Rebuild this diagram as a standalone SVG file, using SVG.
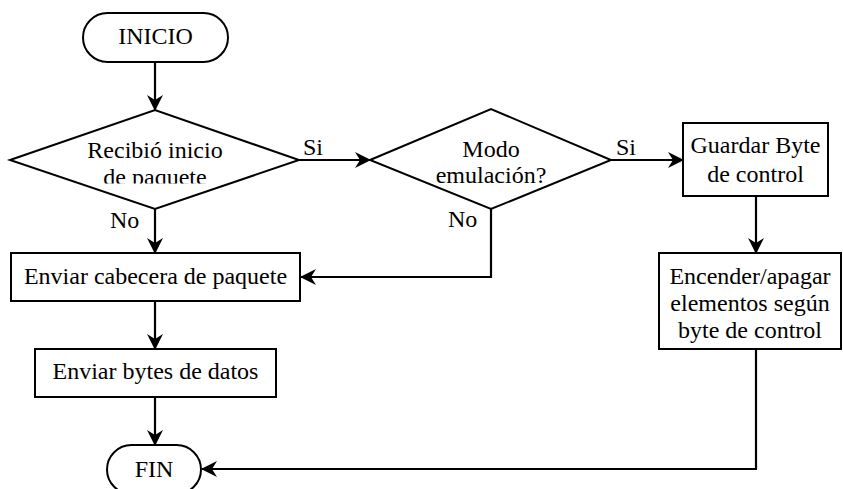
<svg xmlns="http://www.w3.org/2000/svg" width="843" height="489" viewBox="0 0 843 489">
  <style>
    .shape { fill: #ffffff; stroke: #000000; stroke-width: 2; }
    .label { font-family: "Liberation Serif", "Times New Roman", serif; font-size: 24px; fill: #000000; }
    .mid { text-anchor: middle; }
    .edge { fill: none; stroke: #000000; stroke-width: 2.2; }
  </style>
  <defs>
    <marker id="arrow" viewBox="0 0 16 16" markerWidth="16" markerHeight="16" refX="15" refY="8" orient="auto" markerUnits="userSpaceOnUse">
      <path d="M0,0 L16,8 L0,16 L5,8 z" fill="#000000"/>
    </marker>
    <clipPath id="clipDecision1">
      <rect x="0" y="0" width="843" height="183.5"/>
    </clipPath>
  </defs>
  <rect width="843" height="489" fill="#ffffff"/>

  <g id="connectors">
    <line class="edge" x1="155" y1="62" x2="155" y2="110" marker-end="url(#arrow)"/>
    <line class="edge" x1="299" y1="160" x2="370" y2="160" marker-end="url(#arrow)"/>
    <line class="edge" x1="155" y1="209" x2="155" y2="253" marker-end="url(#arrow)"/>
    <polyline class="edge" points="491,209 491,277 301,277" marker-end="url(#arrow)"/>
    <line class="edge" x1="611" y1="160" x2="683" y2="160" marker-end="url(#arrow)"/>
    <line class="edge" x1="756" y1="196" x2="756" y2="253" marker-end="url(#arrow)"/>
    <line class="edge" x1="155" y1="301" x2="155" y2="349" marker-end="url(#arrow)"/>
    <line class="edge" x1="155" y1="397" x2="155" y2="445" marker-end="url(#arrow)"/>
    <line class="edge" x1="756" y1="349" x2="756" y2="469" stroke-width="1.5"/>
    <line class="edge" x1="757" y1="469" x2="202" y2="469" marker-end="url(#arrow)"/>
    <text class="label" x="303" y="155">Si</text>
    <text class="label" x="616" y="155">Si</text>
    <text class="label" x="110" y="228">No</text>
    <text class="label" x="448" y="227">No</text>
  </g>

  <g id="inicio">
    <rect class="shape" x="83" y="13" width="145" height="49" rx="24.5" ry="24.5"/>
    <text class="label mid" x="155.5" y="44">INICIO</text>
  </g>

  <g id="decision-paquete">
    <polygon class="shape" points="10,160 155,110 299,160 155,209"/>
    <g clip-path="url(#clipDecision1)">
      <text class="label mid" x="155" y="158">Recibió inicio</text>
      <text class="label mid" x="155" y="185">de paquete</text>
    </g>
  </g>

  <g id="decision-emulacion">
    <polygon class="shape" points="370,160 491,109 611,160 491,209"/>
    <text class="label mid" x="491" y="157">Modo</text>
    <text class="label mid" x="491" y="183">emulación?</text>
  </g>

  <g id="guardar-byte">
    <rect class="shape" x="683" y="123" width="145" height="73"/>
    <text class="label mid" x="755.5" y="153">Guardar Byte</text>
    <text class="label mid" x="755.5" y="182">de control</text>
  </g>

  <g id="encender-apagar">
    <rect class="shape" x="659" y="253" width="182" height="96"/>
    <text class="label mid" x="750" y="284">Encender/apagar</text>
    <text class="label mid" x="750" y="311">elementos según</text>
    <text class="label mid" x="750" y="338">byte de control</text>
  </g>

  <g id="enviar-cabecera">
    <rect class="shape" x="11" y="253" width="289" height="48"/>
    <text class="label mid" x="155.5" y="284">Enviar cabecera de paquete</text>
  </g>

  <g id="enviar-datos">
    <rect class="shape" x="35" y="349" width="241" height="48"/>
    <text class="label mid" x="155.5" y="379">Enviar bytes de datos</text>
  </g>

  <g id="fin">
    <rect class="shape" x="107" y="445" width="94" height="49" rx="24.5" ry="24.5"/>
    <text class="label mid" x="154" y="477">FIN</text>
  </g>
</svg>
